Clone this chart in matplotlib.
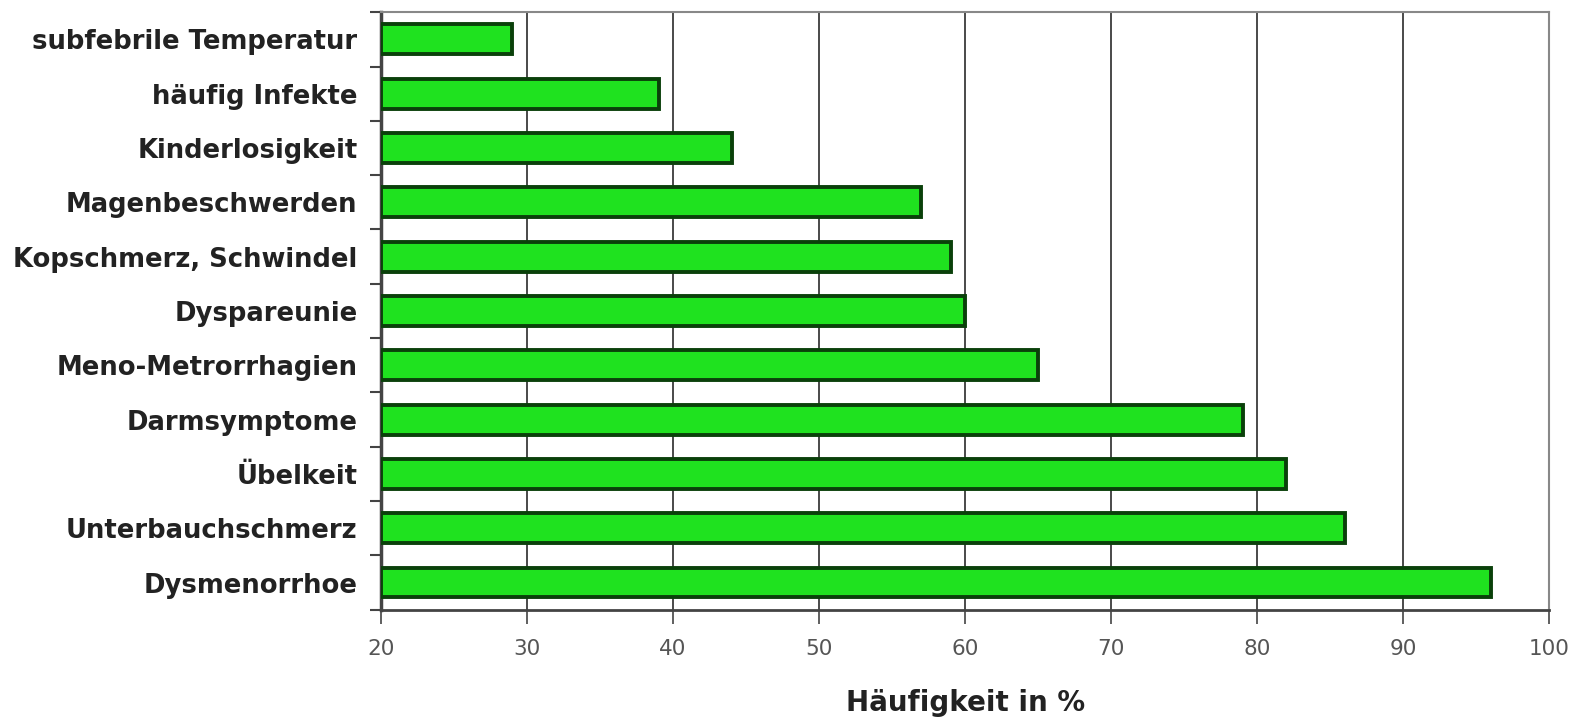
import numpy as np
import matplotlib
matplotlib.use("Agg")
import matplotlib.pyplot as plt

# ── data (top to bottom as shown) ─────────────────────────────────────────────
categories = [
    "subfebrile Temperatur", "häufig Infekte", "Kinderlosigkeit",
    "Magenbeschwerden", "Kopschmerz, Schwindel", "Dyspareunie",
    "Meno-Metrorrhagien", "Darmsymptome", "Übelkeit",
    "Unterbauchschmerz", "Dysmenorrhoe",
]
values = [29, 39, 44, 57, 59, 60, 65, 79, 82, 86, 96]
x_ticks = [20, 30, 40, 50, 60, 70, 80, 90, 100]

# ── colours ───────────────────────────────────────────────────────────────────
C_BAR   = "#1fe21f"
C_EDGE  = "#0a400a"
C_GRID  = "#4a4a4a"
C_SPINE = "#444444"
C_TEXT  = "#222222"

fig = plt.figure(figsize=(15.81, 7.19), dpi=100, facecolor="white")
ax = fig.add_axes([0.241, 0.152, 0.739, 0.831])

n = len(categories)
ypos = np.arange(n)[::-1]   # first category at top

ax.barh(ypos, [v - 20 for v in values], left=20, height=0.55,
        color=C_BAR, edgecolor=C_EDGE, linewidth=2.8, zorder=3)

ax.set_xlim(20, 100)
ax.set_ylim(-0.5, n - 0.5)

# vertical grid lines
ax.set_xticks(x_ticks)
ax.set_xticklabels([str(t) for t in x_ticks], fontsize=15.5, color="#555555")
ax.grid(axis="x", color=C_GRID, linewidth=1.4, zorder=1)

# category labels at bar centres, tick marks at category boundaries
ax.set_yticks(ypos)
ax.set_yticklabels(categories, fontsize=18.6, fontweight="bold", color=C_TEXT)
ax.tick_params(axis="y", which="major", length=0, pad=17)
ax.set_yticks(np.arange(n + 1) - 0.5, minor=True)
ax.tick_params(axis="y", which="minor", length=8, width=1.5, color=C_SPINE,
               direction="out")
ax.tick_params(axis="x", which="major", length=10, width=1.2, color=C_SPINE,
               direction="out", pad=11)

for spine in ax.spines.values():
    spine.set_edgecolor("#888888")
    spine.set_linewidth(1.5)
ax.spines["left"].set_edgecolor(C_SPINE)
ax.spines["left"].set_linewidth(2.5)
ax.spines["bottom"].set_edgecolor(C_SPINE)
ax.spines["bottom"].set_linewidth(2)

ax.set_xlabel("Häufigkeit in %", fontsize=20, fontweight="bold",
              color=C_TEXT, labelpad=22)

fig.savefig("out.png", dpi=100, facecolor="white")
